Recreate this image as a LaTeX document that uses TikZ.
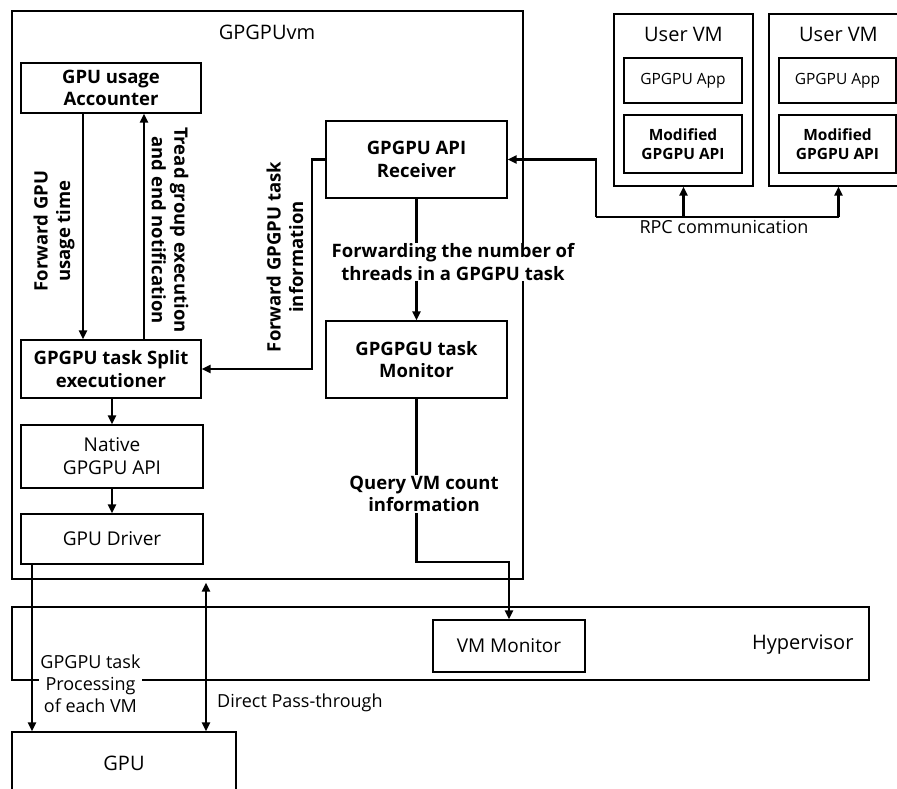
\documentclass[tikz,border=0pt]{standalone}
\usepackage{fontspec}
\setmainfont{Open Sans}
\usetikzlibrary{arrows.meta,calc}
\begin{document}
\begin{tikzpicture}[x=1pt,y=-1pt,
  box/.style={draw,line width=1.3pt,inner sep=0pt,align=center},
  bt/.style={font=\fontsize{18.5}{22.5}\selectfont\bfseries},
  rt/.style={font=\fontsize{19}{23}\selectfont},
  st/.style={font=\fontsize{15.5}{19.5}\selectfont},
  sbt/.style={font=\fontsize{15.5}{19.5}\selectfont\bfseries},
  tt/.style={font=\fontsize{20}{24}\selectfont},
  lbl/.style={font=\fontsize{18.5}{22.5}\selectfont\bfseries,align=center,inner sep=1pt,fill=white},
  nl/.style={font=\fontsize{18}{22}\selectfont,align=center,inner sep=1pt,fill=white},
  arr/.style={line width=2.2pt,-{Triangle[length=9pt,width=8pt]}},
  darr/.style={line width=2.2pt,{Triangle[length=9pt,width=8pt]}-{Triangle[length=9pt,width=8pt]}},
  ln/.style={line width=2.2pt}]
\useasboundingbox (0,0) rectangle (897,789);

% outer containers
\node[box,minimum width=511pt,minimum height=568pt] (vm) at (267.5,295) {};
\node[tt] (vmt) at (267,32) {GPGPUvm};
\node[box,minimum width=857pt,minimum height=73pt] (hyp) at (440.5,643.5) {};
\node[tt,anchor=east] (hypt) at (857,645) {Hypervisor};
\node[box,minimum width=139pt,minimum height=172pt] (uvm1) at (683.5,100) {};
\node[box,minimum width=139pt,minimum height=172pt] (uvm2) at (838.5,100) {};
\node[tt] (uvm1t) at (683.5,34) {User VM};
\node[tt] (uvm2t) at (838.5,34) {User VM};
\node[box,minimum width=224pt,minimum height=118pt] (gpu) at (124,791) {};
\node[tt] (gput) at (124,763) {GPU};

% boxes in GPGPUvm
\node[box,bt,minimum width=180pt,minimum height=50pt] (acc) at (111,88) {GPU usage\\Accounter};
\node[box,bt,minimum width=180pt,minimum height=58pt] (split) at (111,369) {GPGPU task Split\\executioner};
\node[box,rt,minimum width=182pt,minimum height=63pt] (native) at (112,456.5) {Native\\GPGPU API};
\node[box,rt,minimum width=182pt,minimum height=50pt] (driver) at (112,539) {GPU Driver};
\node[box,bt,minimum width=181pt,minimum height=77pt] (recv) at (416.5,159.5) {GPGPU API\\Receiver};
\node[box,bt,minimum width=181pt,minimum height=77pt] (mon) at (416.5,359.5) {GPGPGU task\\Monitor};

% user VM inner boxes
\node[box,st,minimum width=118pt,minimum height=45pt] (app1) at (683,80.5) {GPGPU App};
\node[box,sbt,minimum width=118pt,minimum height=58pt] (mod1) at (683,144) {Modified\\GPGPU API};
\node[box,st,minimum width=117pt,minimum height=45pt] (app2) at (837.5,80.5) {GPGPU App};
\node[box,sbt,minimum width=117pt,minimum height=58pt] (mod2) at (837.5,144) {Modified\\GPGPU API};

% hypervisor inner
\node[box,rt,minimum width=152pt,minimum height=52pt] (vmmon) at (509,646) {VM Monitor};

% helper coordinates
\coordinate (xa) at (83,0);
\coordinate (xb) at (144,0);
\coordinate (xs) at (112,0);
\coordinate (xd) at (32,0);
\coordinate (xp) at (206,0);
\coordinate (yq) at (0,562);
\coordinate (j) at (596,217);

% arrows in GPGPUvm
\draw[arr] (acc.south -| xa) -- (split.north -| xa);
\draw[arr] (split.north -| xb) -- (acc.south -| xb);
\draw[arr] (split.south -| xs) -- (native.north -| xs);
\draw[arr] (native.south -| xs) -- (driver.north -| xs);
\draw[arr] (recv.west) -- ++(-13,0) |- (split.east);
\draw[arr] (recv.south) -- (mon.north);
\draw[arr] (mon.south) -- (mon.south |- yq) -| (vmmon.north);

% RPC
\draw[arr] (j) |- (recv.east);
\draw[ln] (j) -- (uvm2.south |- j);
\draw[arr] (uvm1.south |- j) -- (uvm1.south);
\draw[arr] (uvm2.south |- j) -- (uvm2.south);
\node[font=\fontsize{18}{22}\selectfont,anchor=north,inner sep=1pt] (rpc) at (724,219) {RPC communication};

% lower arrows
\draw[arr] (driver.south -| xd) -- (gpu.north -| xd);
\draw[darr] ($(vm.south -| xp)+(0,3)$) -- (gpu.north -| xp);

% labels
\node[lbl,rotate=90] (l1) at (54,231) {Forward GPU\\usage time};
\node[lbl,rotate=-90] (l2) at (170,230) {Tread group execution\\and end notification};
\node[lbl,rotate=90] (l3) at (285,257) {Forward GPGPU task\\information};
\node[lbl] (l4) at (453,262) {Forwarding the number of\\threads in a GPGPU task};
\node[lbl] (l5) at (424,494) {Query VM count\\information};
\node[nl] (l6) at (90.5,684) {GPGPU task\\Processing\\of each VM};
\node[font=\fontsize{18}{22}\selectfont,anchor=west,inner sep=1pt] (l7) at (216,703) {Direct Pass-through};
\end{tikzpicture}
\end{document}
